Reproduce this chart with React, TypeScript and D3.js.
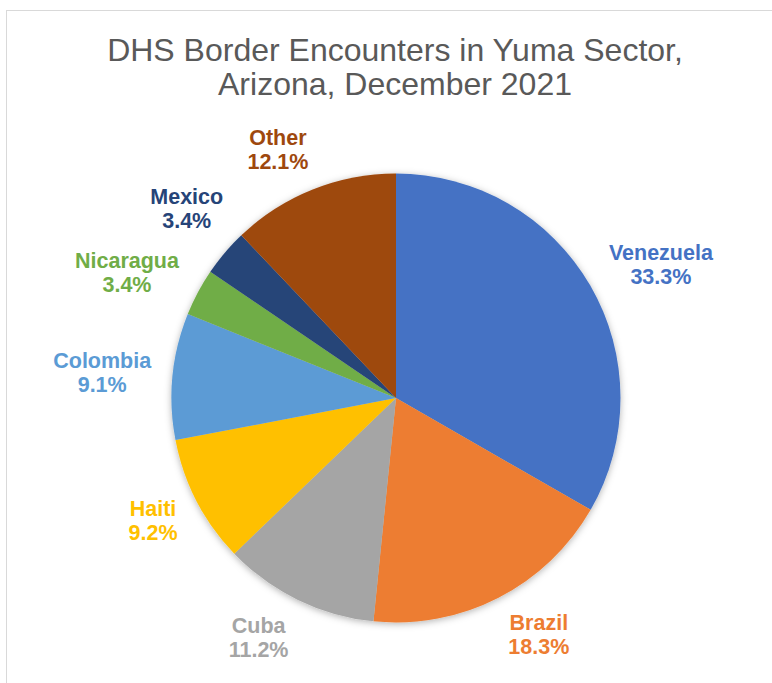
import React, { useEffect, useRef } from 'react';
import * as d3 from 'd3';

// Yuma Sector encounters by country, December 2021 (share of total, %)
const countries = ['Venezuela', 'Brazil', 'Cuba', 'Haiti', 'Colombia', 'Nicaragua', 'Mexico', 'Other'];
const shares = [33.3, 18.3, 11.2, 9.2, 9.1, 3.4, 3.4, 12.1];
const colors = ['#4472C4', '#ED7D31', '#A5A5A5', '#FFC000', '#5B9BD5', '#70AD47', '#264478', '#9E480E'];
const titleLines = ['DHS Border Encounters in Yuma Sector,', 'Arizona, December 2021'];

const W = 772;
const H = 683;

type Slice = { name: string; value: number; color: string };

export default function App() {
  const svgRef = useRef<SVGSVGElement>(null);

  useEffect(() => {
    if (!svgRef.current) return;
    const svg = d3.select(svgRef.current);
    svg.selectAll('*').remove();

    const cx = 396;
    const cy = 398;
    const radius = 224.5;

    // soft shadow like the Excel default
    const defs = svg.append('defs');
    const filter = defs.append('filter')
      .attr('id', 'pieShadow')
      .attr('x', '-20%').attr('y', '-20%')
      .attr('width', '140%').attr('height', '140%');
    filter.append('feDropShadow')
      .attr('dx', 0).attr('dy', 1.5)
      .attr('stdDeviation', 3.5)
      .attr('flood-color', '#000')
      .attr('flood-opacity', 0.3);

    // chart frame
    svg.append('rect')
      .attr('x', 6.5).attr('y', 10.5)
      .attr('width', 820).attr('height', 720)
      .attr('fill', '#fff')
      .attr('stroke', '#D9D9D9')
      .attr('stroke-width', 1);

    // title
    svg.append('text')
      .attr('text-anchor', 'middle')
      .attr('font-family', '"Liberation Sans", Arial, sans-serif')
      .attr('font-size', 32)
      .attr('fill', '#595959')
      .selectAll('tspan')
      .data(titleLines)
      .enter()
      .append('tspan')
      .attr('x', 395)
      .attr('y', (_, i) => 61 + i * 34)
      .text(d => d);

    const data: Slice[] = countries.map((name, i) => ({ name, value: shares[i], color: colors[i] }));

    const pie = d3.pie<Slice>()
      .value(d => d.value)
      .sort(null);
    const arcs = pie(data);

    const arc = d3.arc<d3.PieArcDatum<Slice>>()
      .innerRadius(0)
      .outerRadius(radius);

    const g = svg.append('g').attr('transform', `translate(${cx},${cy})`);

    g.append('g')
      .attr('filter', 'url(#pieShadow)')
      .selectAll('path')
      .data(arcs)
      .enter()
      .append('path')
      .attr('d', arc)
      .attr('fill', d => d.data.color);

    // outside-end labels, Excel style: anchor point just past the rim on the
    // slice's mid-angle, the box hung off it sideways by half its width
    const anchorR = radius + 21.5;
    const lineGap = 24;
    const h = 40;
    const place = (angle: number, w: number) => {
      const ux = Math.sin(angle);
      const uy = -Math.cos(angle);
      return {
        x: ux * anchorR + Math.sign(ux) * (w / 2),
        y: uy * anchorR + uy * (h / 2),
      };
    };

    const labels = arcs.map(a => {
      const label = g.append('text')
        .attr('text-anchor', 'middle')
        .attr('font-family', '"Liberation Sans", Arial, sans-serif')
        .attr('font-size', 21.5)
        .attr('font-weight', 'bold')
        .attr('fill', a.data.color);
      const t1 = label.append('tspan').attr('x', 0).text(a.data.name);
      const t2 = label.append('tspan').attr('x', 0).text(`${a.data.value.toFixed(1)}%`);

      const w = Math.max(
        (t1.node() as SVGTSpanElement).getComputedTextLength(),
        (t2.node() as SVGTSpanElement).getComputedTextLength()
      );
      const angle = (a.startAngle + a.endAngle) / 2;
      return { t1, t2, w, angle, end: a.endAngle, ...place(angle, w) };
    });

    // best fit: slide a crowded label clockwise within its slice until it clears the one before
    const pad = 24;
    const overlaps = (a: typeof labels[0], b: typeof labels[0]) =>
      Math.abs(a.x - b.x) < (a.w + b.w) / 2 + pad && Math.abs(a.y - b.y) < h + pad;
    for (let j = 1; j < labels.length; j++) {
      const b = labels[j];
      for (let i = 0; i < j; i++) {
        while (overlaps(labels[i], b) && b.angle < b.end) {
          b.angle += 0.002;
          const p = place(b.angle, b.w);
          b.x = p.x;
          b.y = p.y;
        }
      }
    }

    labels.forEach(l => {
      // first baseline sits ~4.5px above the block centre
      l.t1.attr('x', l.x).attr('y', l.y - 4.5);
      l.t2.attr('x', l.x).attr('y', l.y - 4.5 + lineGap);
    });
  }, []);

  return (
    <svg
      ref={svgRef}
      width={W}
      height={H}
      style={{ position: 'absolute', left: 0, top: 0, background: '#fff' }}
    />
  );
}
